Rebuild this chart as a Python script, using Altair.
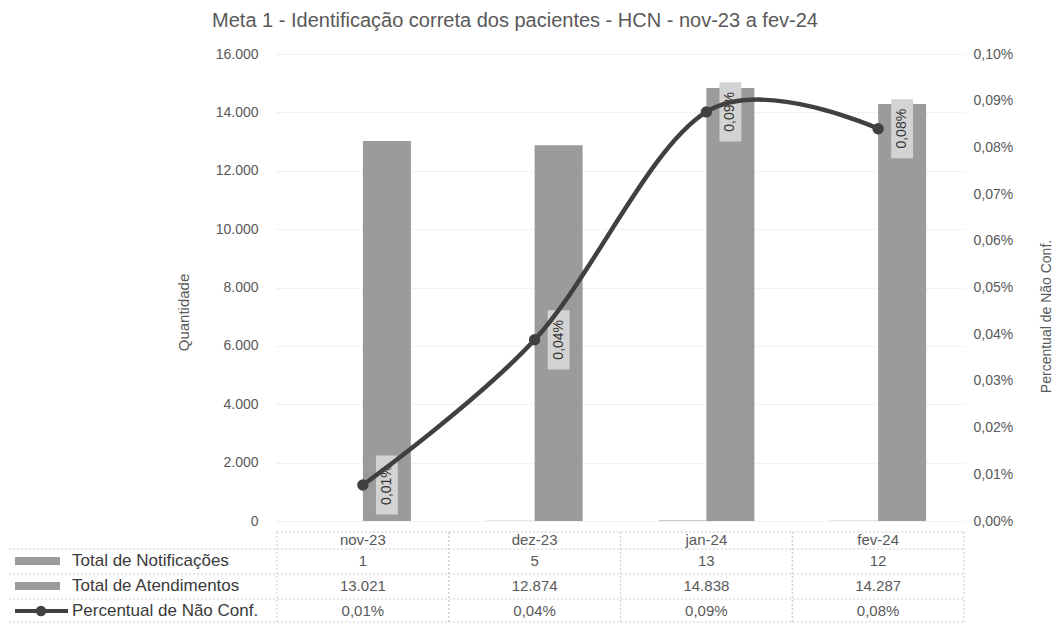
import altair as alt
import pandas as pd

# ---------------- data ----------------
titulo = "Meta 1 - Identificação correta dos pacientes  - HCN - nov-23 a fev-24"
meses = ["nov-23", "dez-23", "jan-24", "fev-24"]
notificacoes = [1, 5, 13, 12]
atendimentos = [13021, 12874, 14838, 14287]
percentual = [0.0077, 0.0388, 0.0876, 0.0840]          # in %
percentual_rotulo = ["0,01%", "0,04%", "0,09%", "0,08%"]
serie_nomes = ["Total de Notificações", "Total de Atendimentos", "Percentual de Não Conf."]
y_ticks = [0, 2000, 4000, 6000, 8000, 10000, 12000, 14000, 16000]
y2_ticks = [0, 0.01, 0.02, 0.03, 0.04, 0.05, 0.06, 0.07, 0.08, 0.09, 0.10]

W, H = 687, 467
FONT = "Liberation Sans"
TXT = "#595959"
BAR = "#9b9b9b"
LINE = "#404040"
GRID = "#e4e4e4"


def br_int(v):
    return f"{v:,}".replace(",", ".")


df = pd.DataFrame({
    "mes": meses,
    "notif": notificacoes,
    "atend": atendimentos,
    "pct": percentual,
    "pct_lbl": percentual_rotulo,
    "notif_txt": [br_int(v) for v in notificacoes],
    "atend_txt": [br_int(v) for v in atendimentos],
})

one = pd.DataFrame({"t": [titulo]})

x_scale = alt.Scale(paddingInner=0, paddingOuter=0)
x_enc = alt.X("mes:N", sort=meses, scale=x_scale, axis=None)

left_axis = alt.Axis(
    values=y_ticks,
    labelExpr="replace(format(datum.value, ',d'), ',', '.')",
    title="Quantidade",
    grid=True, gridColor=GRID, gridDash=[2, 2], gridWidth=1,
    domain=False, ticks=False, labelPadding=19,
    labelFont=FONT, labelFontSize=14, labelColor=TXT,
    titleFont=FONT, titleFontSize=15, titleColor=TXT, titleFontWeight="normal",
    titleAngle=270, titleX=-94, titleY=258, titleAlign="center", titleBaseline="middle",
)
left_scale = alt.Scale(domain=[0, 16000], nice=False)

y_right_axis = alt.Axis(
    orient="right",
    values=y2_ticks,
    labelExpr="replace(format(datum.value, '.2f'), '.', ',') + '%'",
    title="Percentual de Não Conf.",
    grid=False, domain=False, ticks=False, labelPadding=9,
    labelFont=FONT, labelFontSize=14, labelColor=TXT,
    titleFont=FONT, titleFontSize=14, titleColor=TXT, titleFontWeight="normal",
    titleAngle=270, titleX=82, titleY=262, titleAlign="center", titleBaseline="middle",
)
y_right = alt.Y("pct:Q", scale=alt.Scale(domain=[0, 0.1], nice=False), axis=y_right_axis)

base = alt.Chart(df)

bars_atend = base.mark_bar(width=48, xOffset=24, color=BAR).encode(
    x=x_enc, y=alt.Y("atend:Q", scale=left_scale, axis=left_axis)
)
bars_notif = base.mark_bar(width=48, xOffset=-24, color=BAR).encode(
    x=x_enc, y=alt.Y("notif:Q", scale=left_scale, axis=left_axis)
)
left = alt.layer(bars_atend, bars_notif)

boxes = base.mark_point(
    shape="M-0.37,-1L0.37,-1L0.37,1L-0.37,1Z",
    size=3500, filled=True, color="#d3d3d3", opacity=1, xOffset=24, strokeWidth=0,
).encode(x=x_enc, y=y_right)
labels = base.mark_text(
    angle=270, xOffset=24, font=FONT, fontSize=14, color="#333333",
    align="center", baseline="middle",
).encode(x=x_enc, y=y_right, text="pct_lbl:N")
line = base.mark_line(interpolate="cardinal", tension=0, strokeWidth=4.5, color=LINE).encode(
    x=x_enc, y=y_right
)
pts = base.mark_circle(size=130, color=LINE, opacity=1).encode(x=x_enc, y=y_right)
right = alt.layer(boxes, labels, line, pts)

# ---------------- data table below the plot ----------------
ROW_Y = [486, 507, 532, 557]       # header, notif, atend, pct (text centres)
LINES_Y = [478, 495, 520, 545, 568]
LEG_X0 = -272

grid_style = dict(color="#cdcdcd", strokeDash=[2, 2], strokeWidth=1)

vlines_l = base.mark_rule(**grid_style).encode(
    x=alt.X("mes:N", sort=meses, scale=x_scale, axis=None, bandPosition=0),
    y=alt.value(LINES_Y[0]), y2=alt.value(LINES_Y[-1]),
)
vlines_r = base.mark_rule(**grid_style).encode(
    x=alt.X("mes:N", sort=meses, scale=x_scale, axis=None, bandPosition=1),
    y=alt.value(LINES_Y[0]), y2=alt.value(LINES_Y[-1]),
)
oneb = alt.Chart(one)
hl_top = oneb.mark_rule(**grid_style).encode(x=alt.value(0), x2=alt.value(W), y=alt.value(LINES_Y[0]))
hl_rows = [
    oneb.mark_rule(**grid_style).encode(x=alt.value(LEG_X0), x2=alt.value(W), y=alt.value(yy))
    for yy in LINES_Y[1:]
]
vl_leg = oneb.mark_rule(**grid_style).encode(
    x=alt.value(LEG_X0), y=alt.value(LINES_Y[1]), y2=alt.value(LINES_Y[-1])
)

cell = dict(font=FONT, fontSize=15, color=TXT, align="center", baseline="middle")
t_head = base.mark_text(**cell).encode(x=x_enc, y=alt.value(ROW_Y[0]), text="mes:N")
t_notif = base.mark_text(**cell).encode(x=x_enc, y=alt.value(ROW_Y[1]), text="notif_txt:N")
t_atend = base.mark_text(**cell).encode(x=x_enc, y=alt.value(ROW_Y[2]), text="atend_txt:N")
t_pct = base.mark_text(**cell).encode(x=x_enc, y=alt.value(ROW_Y[3]), text="pct_lbl:N")

leg_texts = [
    alt.Chart(pd.DataFrame({"nome": [nome]})).mark_text(
        font=FONT, fontSize=17, color="#3a3a3a", align="left", baseline="middle"
    ).encode(x=alt.value(-205), y=alt.value(yy), text="nome:N")
    for nome, yy in zip(serie_nomes, ROW_Y[1:])
]

sw1 = oneb.mark_rect(color=BAR).encode(
    x=alt.value(-262), x2=alt.value(-217), y=alt.value(ROW_Y[1] - 4), y2=alt.value(ROW_Y[1] + 4)
)
sw2 = oneb.mark_rect(color=BAR).encode(
    x=alt.value(-262), x2=alt.value(-217), y=alt.value(ROW_Y[2] - 4), y2=alt.value(ROW_Y[2] + 4)
)
sw3 = oneb.mark_rule(color=LINE, strokeWidth=4).encode(
    x=alt.value(-262), x2=alt.value(-209), y=alt.value(ROW_Y[3])
)
sw3p = oneb.mark_circle(color=LINE, size=110, opacity=1).encode(x=alt.value(-236), y=alt.value(ROW_Y[3]))

title_mark = oneb.mark_text(
    font=FONT, fontSize=20, color=TXT, align="center", baseline="middle"
).encode(x=alt.value(238), y=alt.value(-33), text="t:N")

table = alt.layer(
    vlines_l, vlines_r, hl_top, *hl_rows, vl_leg,
    t_head, t_notif, t_atend, t_pct, *leg_texts, sw1, sw2, sw3, sw3p, title_mark,
)

chart = (
    alt.layer(left, right, table)
    .resolve_scale(y="independent")
    .properties(
        width=W, height=H,
        autosize=alt.AutoSizeParams(type="none"),
        padding={"left": 269, "top": 46, "right": 89, "bottom": 102},
        background="white",
    )
    .configure_view(stroke=None)
)

chart.save("out.html", embed_options={"renderer": "svg", "actions": False})
